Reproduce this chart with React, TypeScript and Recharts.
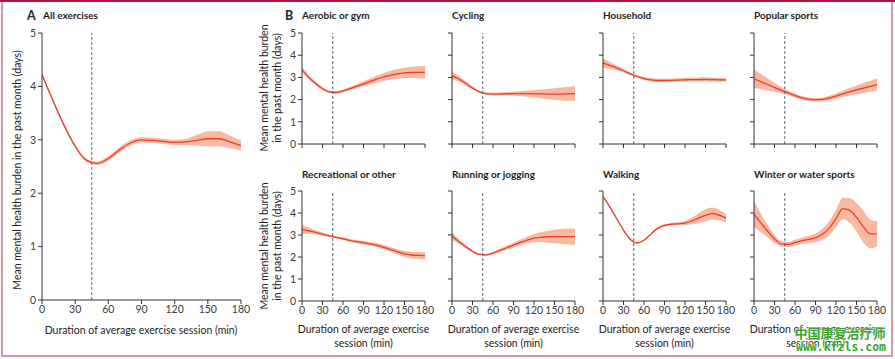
import React from 'react';
import { ComposedChart, Area, Line, XAxis, YAxis, ReferenceLine } from 'recharts';

const minutes = [0, 10, 20, 30, 40, 50, 60, 70, 80, 90, 100, 110, 120, 130, 140, 150, 160, 170, 180];
const xTicks = [0, 30, 60, 90, 120, 150, 180];
const yTicks = [0, 1, 2, 3, 4, 5];

const allMean = [4.22, 3.73, 3.27, 2.88, 2.62, 2.56, 2.65, 2.81, 2.94, 3.0, 2.99, 2.97, 2.95, 2.96, 2.99, 3.02, 3.02, 2.96, 2.89];
const allHW = [0.04, 0.03, 0.03, 0.03, 0.03, 0.03, 0.04, 0.05, 0.05, 0.05, 0.05, 0.05, 0.05, 0.06, 0.1, 0.14, 0.14, 0.12, 0.09];

const aerobicMean = [3.34, 3.0, 2.72, 2.49, 2.35, 2.32, 2.39, 2.49, 2.6, 2.71, 2.82, 2.93, 3.02, 3.1, 3.16, 3.2, 3.22, 3.23, 3.23];
const aerobicHW = [0.13, 0.1, 0.08, 0.07, 0.06, 0.06, 0.07, 0.08, 0.1, 0.12, 0.14, 0.16, 0.18, 0.2, 0.22, 0.24, 0.25, 0.27, 0.28];

const cyclingMean = [3.07, 2.93, 2.74, 2.52, 2.35, 2.27, 2.25, 2.25, 2.26, 2.27, 2.27, 2.27, 2.26, 2.26, 2.25, 2.25, 2.25, 2.26, 2.27];
const cyclingHW = [0.18, 0.13, 0.09, 0.07, 0.05, 0.05, 0.06, 0.07, 0.08, 0.1, 0.12, 0.14, 0.17, 0.2, 0.23, 0.26, 0.29, 0.31, 0.33];

const householdMean = [3.65, 3.54, 3.43, 3.3, 3.16, 3.04, 2.95, 2.89, 2.86, 2.86, 2.87, 2.88, 2.89, 2.9, 2.9, 2.91, 2.9, 2.89, 2.89];
const householdHW = [0.2, 0.15, 0.11, 0.08, 0.06, 0.06, 0.07, 0.08, 0.08, 0.08, 0.08, 0.08, 0.08, 0.09, 0.1, 0.1, 0.1, 0.09, 0.08];

const popularMean = [2.94, 2.81, 2.68, 2.55, 2.42, 2.3, 2.18, 2.08, 2.02, 1.99, 2.01, 2.07, 2.16, 2.26, 2.35, 2.44, 2.52, 2.6, 2.68];
const popularHW = [0.42, 0.34, 0.27, 0.2, 0.15, 0.11, 0.09, 0.08, 0.08, 0.08, 0.09, 0.1, 0.12, 0.14, 0.17, 0.2, 0.23, 0.25, 0.27];

const recreationalMean = [3.26, 3.19, 3.12, 3.04, 2.96, 2.89, 2.83, 2.76, 2.7, 2.65, 2.6, 2.53, 2.44, 2.34, 2.23, 2.14, 2.09, 2.07, 2.06];
const recreationalHW = [0.22, 0.15, 0.1, 0.07, 0.05, 0.05, 0.06, 0.07, 0.07, 0.08, 0.08, 0.09, 0.1, 0.11, 0.12, 0.14, 0.15, 0.16, 0.17];

const runningMean = [2.95, 2.7, 2.47, 2.26, 2.12, 2.1, 2.18, 2.3, 2.42, 2.54, 2.66, 2.77, 2.86, 2.9, 2.92, 2.93, 2.93, 2.93, 2.93];
const runningHW = [0.17, 0.11, 0.07, 0.05, 0.04, 0.04, 0.05, 0.07, 0.09, 0.11, 0.13, 0.15, 0.18, 0.22, 0.27, 0.31, 0.34, 0.36, 0.37];

const walkingMean = [4.74, 4.28, 3.75, 3.22, 2.8, 2.64, 2.76, 3.04, 3.3, 3.44, 3.49, 3.51, 3.54, 3.64, 3.77, 3.89, 3.97, 3.9, 3.77];
const walkingHW = [0.03, 0.03, 0.03, 0.03, 0.03, 0.03, 0.03, 0.04, 0.05, 0.06, 0.06, 0.07, 0.1, 0.15, 0.22, 0.28, 0.28, 0.24, 0.2];

const winterMean = [3.95, 3.55, 3.17, 2.82, 2.6, 2.57, 2.65, 2.74, 2.8, 2.87, 3.03, 3.3, 3.75, 4.2, 4.12, 3.8, 3.38, 3.05, 3.05];
const winterHW = [0.58, 0.42, 0.28, 0.18, 0.13, 0.12, 0.13, 0.15, 0.17, 0.2, 0.25, 0.32, 0.4, 0.48, 0.55, 0.65, 0.72, 0.65, 0.57];

const FONT = 'Lato, "Open Sans", sans-serif';
const LINE = '#e6402b';
const BAND = '#f8b9a0';
const DASH = '#4f6d80';
const AXIS = '#333333';

function build(mean: number[], hw: number[]) {
  return minutes.map((m, i) => ({ x: m, mean: mean[i], band: [mean[i] - hw[i], mean[i] + hw[i]] }));
}

const blank = () => '';

function Panel(props: { x: number; y: number; w: number; h: number; mean: number[]; hw: number[]; yLabels: boolean; xLabels: boolean }) {
  const { x, y, w, h, mean, hw, yLabels, xLabels } = props;
  const data = build(mean, hw);
  const padL = 40, padT = 8, padR = 12, padB = 30;
  const tickStyle = { fontSize: 10.5, fill: '#3a3a3a', fontFamily: FONT };
  return (
    <div style={{ position: 'absolute', left: x - padL, top: y - padT }}>
      <ComposedChart width={w + padL + padR} height={h + padT + padB} data={data} margin={{ top: padT, right: padR, left: 0, bottom: 0 }}>
        <XAxis
          type="number"
          dataKey="x"
          domain={[0, 180]}
          ticks={xTicks}
          interval={0}
          height={padB}
          tickSize={4}
          tickMargin={2}
          stroke={AXIS}
          tick={tickStyle}
          tickFormatter={xLabels ? undefined : blank}
          allowDataOverflow
        />
        <YAxis
          type="number"
          domain={[0, 5]}
          ticks={yTicks}
          interval={0}
          width={padL}
          tickSize={4}
          tickMargin={2}
          stroke={AXIS}
          tick={tickStyle}
          tickFormatter={yLabels ? undefined : blank}
          allowDataOverflow
        />
        <Area type="monotone" dataKey="band" stroke="none" fill={BAND} fillOpacity={1} isAnimationActive={false} activeDot={false} />
        <Line type="monotone" dataKey="mean" stroke={LINE} strokeWidth={1.3} dot={false} activeDot={false} isAnimationActive={false} />
        <ReferenceLine x={45} stroke={DASH} strokeDasharray="3 2" strokeWidth={1} />
      </ComposedChart>
    </div>
  );
}

function Txt(props: { x: number; y: number; children: React.ReactNode; size?: number; bold?: boolean; align?: 'left' | 'center' }) {
  const { x, y, children, size = 10.5, bold = false, align = 'center' } = props;
  const tx = align === 'center' ? '-50%' : '0';
  return (
    <div
      style={{
        position: 'absolute',
        left: x,
        top: y,
        transform: `translate(${tx}, -50%)`,
        fontSize: size,
        fontWeight: bold ? 700 : 400,
        fontFamily: FONT,
        color: '#222',
        whiteSpace: 'nowrap',
        lineHeight: 'normal',
      }}
    >
      {children}
    </div>
  );
}

function RotLabel(props: { cx: number; cy: number; lines: string[]; size: number; lh: number }) {
  const { cx, cy, lines, size, lh } = props;
  return (
    <div
      style={{
        position: 'absolute',
        left: cx,
        top: cy,
        transform: 'translate(-50%, -50%) rotate(-90deg)',
        fontSize: size,
        fontFamily: FONT,
        color: '#222',
        whiteSpace: 'nowrap',
        textAlign: 'center',
        lineHeight: `${lh}px`,
      }}
    >
      {lines.map((l, i) => (
        <div key={i}>{l}</div>
      ))}
    </div>
  );
}

const topTitles = ['Aerobic or gym', 'Cycling', 'Household', 'Popular sports'];
const bottomTitles = ['Recreational or other', 'Running or jogging', 'Walking', 'Winter or water sports'];
const smallLefts = [302, 452, 603, 754];

export default function App() {
  const topSeries = [
    [aerobicMean, aerobicHW],
    [cyclingMean, cyclingHW],
    [householdMean, householdHW],
    [popularMean, popularHW],
  ];
  const bottomSeries = [
    [recreationalMean, recreationalHW],
    [runningMean, runningHW],
    [walkingMean, walkingHW],
    [winterMean, winterHW],
  ];
  return (
    <div style={{ position: 'absolute', left: 0, top: 0, width: 895, height: 359, background: '#fff', overflow: 'hidden', fontFamily: FONT }}>
      <div style={{ position: 'absolute', left: 1, top: 0, width: 892, height: 357, boxSizing: 'border-box', borderLeft: '2px solid #dc93a8', borderRight: '2px solid #dc93a8', borderBottom: '2px solid #dc93a8' }} />
      <div style={{ position: 'absolute', left: 0, top: 0, width: 895, height: 2, background: '#b3133f' }} />

      <Txt x={27} y={15} size={12.5} bold align="left">A</Txt>
      <Txt x={43} y={15} size={10} bold align="left">All exercises</Txt>
      <Txt x={285} y={15} size={12.5} bold align="left">B</Txt>

      <Panel x={42} y={33} w={199} h={267} mean={allMean} hw={allHW} yLabels xLabels />
      <RotLabel cx={17} cy={170} lines={['Mean mental health burden in the past month (days)']} size={10.5} lh={13} />
      <Txt x={141} y={330}>Duration of average exercise session (min)</Txt>

      {topSeries.map((s, i) => (
        <Panel key={'t' + i} x={smallLefts[i]} y={33} w={123} h={111} mean={s[0]} hw={s[1]} yLabels={i === 0} xLabels={false} />
      ))}
      {bottomSeries.map((s, i) => (
        <Panel key={'b' + i} x={smallLefts[i]} y={191} w={123} h={110} mean={s[0]} hw={s[1]} yLabels={i === 0} xLabels />
      ))}

      {topTitles.map((t, i) => (
        <Txt key={'tt' + i} x={smallLefts[i]} y={15} size={10} bold align="left">{t}</Txt>
      ))}
      {bottomTitles.map((t, i) => (
        <Txt key={'bt' + i} x={smallLefts[i]} y={174} size={10} bold align="left">{t}</Txt>
      ))}

      <RotLabel cx={271} cy={88} lines={['Mean mental health burden', 'in the past month (days)']} size={10.5} lh={13} />
      <RotLabel cx={271} cy={246} lines={['Mean mental health burden', 'in the past month (days)']} size={10.5} lh={13} />

      {smallLefts.map((l, i) => (
        <div key={'xl' + i} style={{ position: 'absolute', left: l + 61.5, top: 336, transform: 'translate(-50%, -50%)', fontSize: 10.5, fontFamily: FONT, color: '#222', textAlign: 'center', lineHeight: '13.5px', whiteSpace: 'nowrap' }}>
          <div>Duration of average exercise</div>
          <div>session (min)</div>
        </div>
      ))}

      <div style={{ position: 'absolute', left: 840, top: 333, transform: 'translate(-50%, -50%)', fontSize: 13, fontWeight: 700, fontFamily: '"Noto Sans CJK SC", sans-serif', color: '#3aa52a', whiteSpace: 'nowrap', lineHeight: '14px', textShadow: '0 0 2px #fff, 0 0 2px #fff' }}>中国康复治疗师</div>
      <div style={{ position: 'absolute', left: 841, top: 347, transform: 'translate(-50%, -50%)', fontSize: 11.5, fontWeight: 700, fontFamily: '"DejaVu Sans Mono", monospace', color: '#3aa52a', whiteSpace: 'nowrap', lineHeight: '12px', textShadow: '0 0 2px #fff, 0 0 2px #fff' }}>www.kfzls.com</div>
    </div>
  );
}
